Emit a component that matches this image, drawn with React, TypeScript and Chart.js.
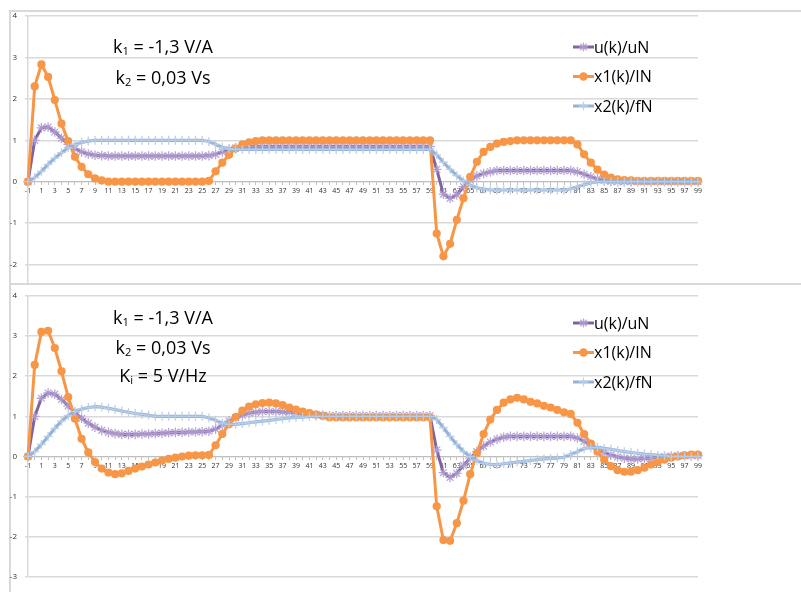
import React, { useEffect, useRef } from 'react';
import { Chart, registerables } from 'chart.js';

Chart.register(...registerables);

// ---------- data ----------
const K_LABELS = [
  -1, 0, 1, 2, 3, 4, 5, 6, 7, 8, 9, 10, 11, 12, 13, 14, 15, 16, 17, 18, 19,
  20, 21, 22, 23, 24, 25, 26, 27, 28, 29, 30, 31, 32, 33, 34, 35, 36, 37, 38, 39,
  40, 41, 42, 43, 44, 45, 46, 47, 48, 49, 50, 51, 52, 53, 54, 55, 56, 57, 58, 59,
  60, 61, 62, 63, 64, 65, 66, 67, 68, 69, 70, 71, 72, 73, 74, 75, 76, 77, 78, 79,
  80, 81, 82, 83, 84, 85, 86, 87, 88, 89, 90, 91, 92, 93, 94, 95, 96, 97, 98, 99,
];

const SERIES_NAMES = ['u(k)/uN', 'x1(k)/IN', 'x2(k)/fN'];

const Y_MIN = -3;
const Y_MAX = 4;

// top chart (k1, k2)
const U_TOP = [
  0, 1.0, 1.3, 1.32, 1.2, 1.05, 0.9, 0.8, 0.72, 0.67, 0.64, 0.63,
  0.62, 0.62, 0.62, 0.62, 0.62, 0.62, 0.62, 0.62, 0.62, 0.62, 0.62, 0.62, 0.62, 0.62, 0.62,
  0.63, 0.66, 0.72, 0.78, 0.82,
  0.85, 0.85, 0.85, 0.85, 0.85, 0.85, 0.85, 0.85, 0.85, 0.85, 0.85, 0.85, 0.85, 0.85, 0.85,
  0.85, 0.85, 0.85, 0.85, 0.85, 0.85, 0.85, 0.85, 0.85, 0.85, 0.85, 0.85, 0.85, 0.85,
  0.3, -0.3, -0.4, -0.32, -0.12, 0.04, 0.14, 0.2, 0.24,
  0.27, 0.27, 0.27, 0.27, 0.27, 0.27, 0.27, 0.27, 0.27, 0.27, 0.27, 0.27,
  0.24, 0.18, 0.12, 0.07, 0.03, 0.01,
  0, 0, 0, 0, 0, 0, 0, 0, 0, 0, 0, 0, 0,
];

const X1_TOP = [
  0, 2.3, 2.83, 2.53, 1.97, 1.4, 0.98, 0.6, 0.36, 0.18, 0.08, 0.03,
  0, 0, 0, 0, 0, 0, 0, 0, 0, 0, 0, 0, 0, 0, 0,
  0.02, 0.25, 0.46, 0.65, 0.8, 0.9, 0.95, 0.98,
  1, 1, 1, 1, 1, 1, 1, 1, 1, 1, 1, 1, 1, 1, 1, 1, 1, 1, 1, 1, 1, 1, 1, 1, 1, 1,
  -1.25, -1.8, -1.5, -0.92, -0.4, 0.12, 0.48, 0.72, 0.84, 0.92, 0.96, 0.98,
  1, 1, 1, 1, 1, 1, 1, 1, 1,
  0.9, 0.66, 0.46, 0.29, 0.17, 0.1, 0.06, 0.04, 0.03,
  0.02, 0.02, 0.02, 0.02, 0.02, 0.02, 0.02, 0.02, 0.02, 0.02,
];

const X2_TOP = [
  0, 0.1, 0.25, 0.42, 0.57, 0.7, 0.82, 0.9, 0.95, 0.98,
  1, 1, 1, 1, 1, 1, 1, 1, 1, 1, 1, 1, 1, 1, 1, 1, 1,
  0.97, 0.9, 0.83, 0.79,
  0.78, 0.78, 0.78, 0.78, 0.78, 0.78, 0.78, 0.78, 0.78, 0.78, 0.78, 0.78, 0.78, 0.78, 0.78,
  0.78, 0.78, 0.78, 0.78, 0.78, 0.78, 0.78, 0.78, 0.78, 0.78, 0.78, 0.78, 0.78, 0.78, 0.78,
  0.65, 0.47, 0.3, 0.15, 0.02, -0.08, -0.15, -0.18, -0.2,
  -0.2, -0.2, -0.2, -0.2, -0.2, -0.2, -0.2, -0.2, -0.2, -0.2, -0.2,
  -0.17, -0.12, -0.07, -0.03,
  0, 0, 0, 0, 0, 0, 0, 0, 0, 0, 0, 0, 0, 0, 0, 0,
];

// bottom chart (k1, k2, Ki)
const U_BOTTOM = [
  0, 1.0, 1.45, 1.58, 1.55, 1.42, 1.26, 1.1, 0.95, 0.83, 0.73, 0.65,
  0.6, 0.57, 0.55, 0.55, 0.55, 0.56, 0.56, 0.57, 0.58, 0.59, 0.6, 0.6, 0.61, 0.61, 0.62,
  0.63, 0.68, 0.78, 0.88, 0.96, 1.03, 1.08, 1.1, 1.12, 1.12, 1.12, 1.11, 1.1, 1.08,
  1.06, 1.05, 1.04, 1.03,
  1.02, 1.02, 1.02, 1.02, 1.02, 1.02, 1.02, 1.02, 1.02, 1.02, 1.02, 1.02, 1.02, 1.02, 1.02, 1.02,
  0.16, -0.4, -0.52, -0.42, -0.22, -0.04, 0.12, 0.26, 0.36, 0.43, 0.48,
  0.5, 0.5, 0.5, 0.5, 0.5, 0.5, 0.5, 0.5, 0.5, 0.5,
  0.46, 0.38, 0.28, 0.18, 0.1, 0.04, -0.01, -0.04, -0.06, -0.06, -0.05, -0.04, -0.02,
  0, 0.01, 0.02, 0.02, 0.02, 0.02,
];

const X1_BOTTOM = [
  0, 2.28, 3.1, 3.13, 2.7, 2.12, 1.48, 0.94, 0.44, 0.1, -0.14, -0.3,
  -0.4, -0.44, -0.42, -0.36, -0.3, -0.25, -0.2, -0.15, -0.1, -0.06, -0.03, 0, 0.02, 0.03, 0.03,
  0.04, 0.28, 0.56, 0.8, 0.98, 1.14, 1.24, 1.3, 1.33, 1.34, 1.32, 1.28, 1.22, 1.17,
  1.12, 1.08, 1.04, 1.01,
  0.97, 0.97, 0.97, 0.97, 0.97, 0.97, 0.97, 0.97, 0.97, 0.97, 0.97, 0.97, 0.97, 0.97, 0.97, 0.97,
  -1.24, -2.08, -2.1, -1.66, -1.1, -0.44, 0.08, 0.56, 0.92, 1.16,
  1.34, 1.42, 1.46, 1.42, 1.36, 1.32, 1.26, 1.22, 1.16, 1.1,
  1.06, 0.84, 0.56, 0.32, 0.12, -0.08, -0.24, -0.34, -0.38, -0.38,
  -0.34, -0.28, -0.2, -0.14, -0.08, -0.03, 0, 0.03, 0.05, 0.05,
];

const X2_BOTTOM = [
  0, 0.12, 0.3, 0.5, 0.7, 0.88, 1.02, 1.12, 1.18, 1.22, 1.24, 1.23,
  1.2, 1.17, 1.13, 1.1, 1.07, 1.05, 1.03,
  1, 1, 1, 1, 1, 1, 1, 1,
  0.96, 0.9, 0.83, 0.8, 0.8, 0.82, 0.84, 0.86, 0.88, 0.9, 0.92, 0.94, 0.96, 0.97, 0.98,
  1, 1, 1, 1, 1, 1, 1, 1, 1, 1, 1, 1, 1, 1, 1, 1, 1, 1, 1,
  0.92, 0.72, 0.5, 0.3, 0.12, 0, -0.1, -0.17, -0.2, -0.2,
  -0.18, -0.16, -0.14, -0.12, -0.1, -0.08, -0.06, -0.05, -0.04, -0.02,
  0.05, 0.12, 0.2, 0.22, 0.22, 0.2, 0.18, 0.15, 0.12, 0.1,
  0.08, 0.06, 0.05, 0.03, 0.02,
  0, 0, 0, 0, 0,
];

// ---------- styles ----------
const C_U = '#8064a2';
const C_X1 = '#f79646';
const C_X2 = '#95b3d7';
const M_U = 'rgba(176,156,210,0.9)';
const M_X2 = 'rgba(186,205,232,0.95)';
const GRID = '#d9d9d9';
const FONT = '"Open Sans", "Liberation Sans", sans-serif';

function drawMarker(ctx: CanvasRenderingContext2D, style: string, x: number, y: number, color: string) {
  ctx.save();
  ctx.fillStyle = color;
  ctx.strokeStyle = color;
  if (style === 'circle') {
    ctx.beginPath();
    ctx.arc(x, y, 4.2, 0, Math.PI * 2);
    ctx.fill();
  } else {
    const r = 4.5;
    ctx.lineWidth = 1.3;
    ctx.beginPath();
    ctx.moveTo(x - r, y);
    ctx.lineTo(x + r, y);
    ctx.moveTo(x, y - r);
    ctx.lineTo(x, y + r);
    if (style === 'star') {
      const d = r * 0.707;
      ctx.moveTo(x - d, y - d);
      ctx.lineTo(x + d, y + d);
      ctx.moveTo(x - d, y + d);
      ctx.lineTo(x + d, y - d);
    }
    ctx.stroke();
  }
  ctx.restore();
}

const insideLegend = {
  id: 'insideLegend',
  afterDatasetsDraw(chart: any, _args: any, opts: any) {
    const ctx: CanvasRenderingContext2D = chart.ctx;
    const { x, y, gap } = opts;
    chart.data.datasets.forEach((ds: any, i: number) => {
      const cy = y + i * gap;
      ctx.save();
      ctx.strokeStyle = ds.borderColor;
      ctx.lineWidth = 3;
      ctx.beginPath();
      ctx.moveTo(x, cy);
      ctx.lineTo(x + 21, cy);
      ctx.stroke();
      drawMarker(ctx, ds.pointStyle, x + 10.5, cy, ds.pointBorderColor);
      ctx.fillStyle = '#000';
      ctx.font = `16px ${FONT}`;
      ctx.textBaseline = 'middle';
      ctx.textAlign = 'left';
      ctx.fillText(ds.label, x + 21, cy + 1);
      ctx.restore();
    });
  },
};

type PanelProps = {
  u: number[];
  x1: number[];
  x2: number[];
  width: number;
  height: number;
  padTop: number;
  padBottom: number;
  legendY: number;
};

function Panel({ u, x1, x2, width, height, padTop, padBottom, legendY }: PanelProps) {
  const ref = useRef<HTMLCanvasElement | null>(null);
  useEffect(() => {
    if (!ref.current) return;
    const chart = new Chart(ref.current, {
      type: 'line',
      data: {
        labels: K_LABELS.map(String),
        datasets: [
          {
            label: SERIES_NAMES[0],
            data: u,
            borderColor: C_U,
            borderWidth: 3,
            pointStyle: 'star',
            pointRadius: 4.8,
            pointBorderWidth: 1.3,
            pointBorderColor: M_U,
            pointBackgroundColor: M_U,
            tension: 0,
            order: 2,
          },
          {
            label: SERIES_NAMES[1],
            data: x1,
            borderColor: C_X1,
            borderWidth: 3,
            pointStyle: 'circle',
            pointRadius: 4.1,
            pointBorderWidth: 0,
            pointBorderColor: C_X1,
            pointBackgroundColor: C_X1,
            tension: 0,
            order: 1,
          },
          {
            label: SERIES_NAMES[2],
            data: x2,
            borderColor: C_X2,
            borderWidth: 3.2,
            pointStyle: 'cross',
            pointRadius: 4.5,
            pointBorderWidth: 1.3,
            pointBorderColor: M_X2,
            pointBackgroundColor: M_X2,
            tension: 0,
            order: 0,
          },
        ],
      },
      options: {
        animation: false,
        responsive: false,
        devicePixelRatio: 1,
        layout: { padding: { left: 0, right: 103, top: padTop, bottom: padBottom } },
        plugins: {
          legend: { display: false },
          tooltip: { enabled: false },
          insideLegend: { x: 573, y: legendY, gap: 29.5 },
        } as any,
        scales: {
          x: {
            type: 'category',
            position: { y: 0 } as any,
            offset: false,
            grid: {
              display: true,
              drawOnChartArea: false,
              drawTicks: true,
              tickLength: 3,
              color: '#bfbfbf',
            },
            border: { display: true, color: '#bfbfbf', width: 1 },
            ticks: {
              autoSkip: false,
              maxRotation: 0,
              minRotation: 0,
              padding: 2,
              color: '#333333',
              font: { size: 7, family: FONT },
              callback: (_v: any, i: number) => (i % 2 === 0 ? String(K_LABELS[i]) : ''),
            },
          },
          y: {
            min: Y_MIN,
            max: Y_MAX,
            afterFit: (s: any) => {
              s.width = 28;
            },
            grid: { color: GRID, lineWidth: 1.5, tickLength: 3 },
            border: { display: true, color: GRID, width: 1.5 },
            ticks: {
              stepSize: 1,
              padding: 8,
              color: '#333333',
              font: { size: 8, family: FONT },
            },
          },
        },
      },
      plugins: [insideLegend as any],
    });
    return () => chart.destroy();
  }, [u, x1, x2, padTop, padBottom, legendY]);
  return <canvas ref={ref} width={width} height={height} style={{ display: 'block' }} />;
}

const annoStyle: React.CSSProperties = {
  position: 'absolute',
  left: 63,
  width: 200,
  textAlign: 'center',
  fontFamily: FONT,
  fontSize: 18,
  lineHeight: '20px',
  color: '#000',
  whiteSpace: 'nowrap',
};
const subStyle: React.CSSProperties = { fontSize: '0.62em', verticalAlign: '-0.2em' };

export default function App() {
  return (
    <div
      style={{
        position: 'absolute',
        left: 0,
        top: 0,
        width: 801,
        height: 592,
        overflow: 'hidden',
        background: '#fff',
      }}
    >
      {/* frames */}
      <div
        style={{
          position: 'absolute',
          left: 9,
          top: 10,
          width: 800,
          height: 300,
          borderTop: `2px solid ${GRID}`,
          borderLeft: `2px solid ${GRID}`,
        }}
      />
      {/* top chart (clipped) */}
      <div style={{ position: 'absolute', left: 0, top: 0, width: 801, height: 283, overflow: 'hidden' }}>
        <Panel u={U_TOP} x1={X1_TOP} x2={X2_TOP} width={801} height={330} padTop={16} padBottom={24} legendY={47} />
      </div>
      <div style={{ ...annoStyle, top: 36 }}>
        k<span style={subStyle}>1</span> = -1,3 V/A
      </div>
      <div style={{ ...annoStyle, top: 67 }}>
        k<span style={subStyle}>2</span> = 0,03 Vs
      </div>

      {/* bottom chart */}
      <div
        style={{
          position: 'absolute',
          left: 0,
          top: 283,
          width: 801,
          height: 309,
          background: '#fff',
        }}
      >
        <div
          style={{
            position: 'absolute',
            left: 9,
            top: 0,
            width: 800,
            height: 320,
            borderTop: `2px solid ${GRID}`,
            borderLeft: `2px solid ${GRID}`,
          }}
        />
        <div style={{ position: 'absolute', left: 0, top: 0 }}>
          <Panel u={U_BOTTOM} x1={X1_BOTTOM} x2={X2_BOTTOM} width={801} height={309} padTop={7} padBottom={15} legendY={40} />
        </div>
      </div>
      <div style={{ ...annoStyle, top: 307 }}>
        k<span style={subStyle}>1</span> = -1,3 V/A
      </div>
      <div style={{ ...annoStyle, top: 337 }}>
        k<span style={subStyle}>2</span> = 0,03 Vs
      </div>
      <div style={{ ...annoStyle, top: 365 }}>
        K<span style={subStyle}>i</span> = 5 V/Hz
      </div>
    </div>
  );
}
